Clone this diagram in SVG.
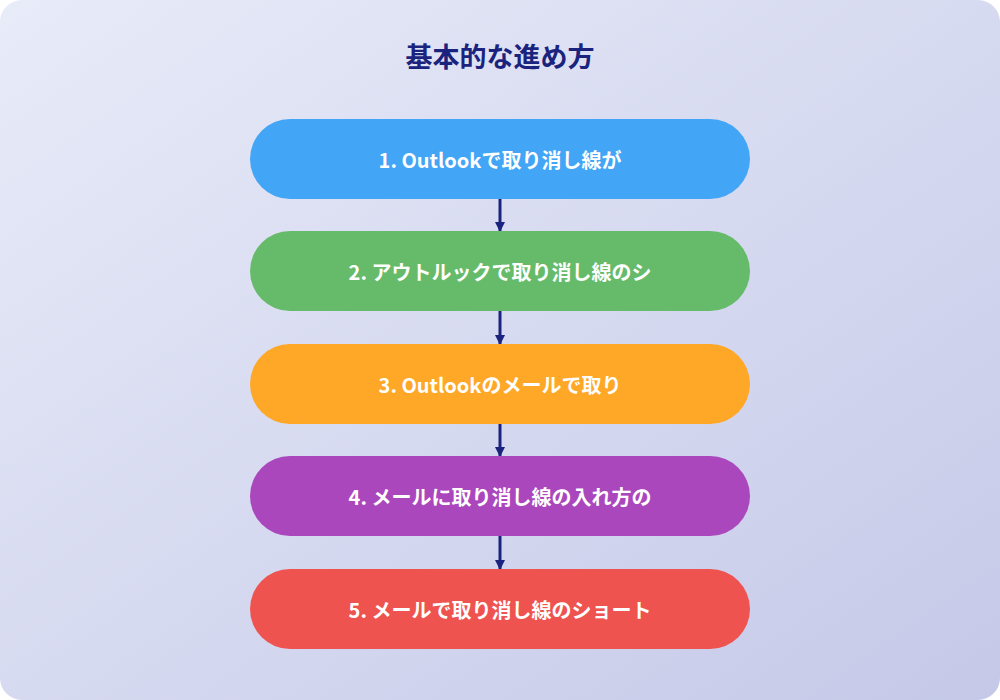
<svg xmlns="http://www.w3.org/2000/svg" width="1000" height="700" viewBox="0 0 1000 700">
<defs>
<linearGradient id="bg" x1="0" y1="0" x2="1" y2="1">
<stop offset="0" stop-color="#e8ebf8"/><stop offset="1" stop-color="#c5c9e8"/>
</linearGradient>
<marker id="ah" markerWidth="10" markerHeight="10" refX="9" refY="5" orient="auto" markerUnits="userSpaceOnUse">
<path d="M0,0 L10,5 L0,10 Z" fill="#1a237e"/>
</marker>
<style>
.t{font-family:"Noto Sans CJK JP","Noto Sans",sans-serif;font-weight:bold;fill:#fff;font-size:20px;text-anchor:middle;dominant-baseline:central}
.c{stroke:#1a237e;stroke-width:3;fill:none;marker-end:url(#ah)}
</style>
</defs>
<rect x="0" y="0" width="1000" height="700" rx="22" fill="url(#bg)"/>
<text x="500" y="55" font-family="'Noto Sans CJK JP',sans-serif" font-weight="bold" font-size="27" fill="#1a237e" text-anchor="middle" dominant-baseline="central">基本的な進め方</text>
<g id="connectors">
<line class="c" x1="500" y1="199" x2="500" y2="231"/>
<line class="c" x1="500" y1="311" x2="500" y2="344"/>
<line class="c" x1="500" y1="424" x2="500" y2="456"/>
<line class="c" x1="500" y1="536" x2="500" y2="569"/>
</g>
<g id="n1"><rect x="250" y="119" width="500" height="80" rx="40" fill="#42a5f5"/><text class="t" x="500" y="159">1. Outlookで取り消し線が</text></g>
<g id="n2"><rect x="250" y="231" width="500" height="80" rx="40" fill="#66bb6a"/><text class="t" x="500" y="271">2. アウトルックで取り消し線のシ</text></g>
<g id="n3"><rect x="250" y="344" width="500" height="80" rx="40" fill="#ffa726"/><text class="t" x="500" y="384">3. Outlookのメールで取り</text></g>
<g id="n4"><rect x="250" y="456" width="500" height="80" rx="40" fill="#ab47bc"/><text class="t" x="500" y="496">4. メールに取り消し線の入れ方の</text></g>
<g id="n5"><rect x="250" y="569" width="500" height="80" rx="40" fill="#ef5350"/><text class="t" x="500" y="609">5. メールで取り消し線のショート</text></g>
</svg>
